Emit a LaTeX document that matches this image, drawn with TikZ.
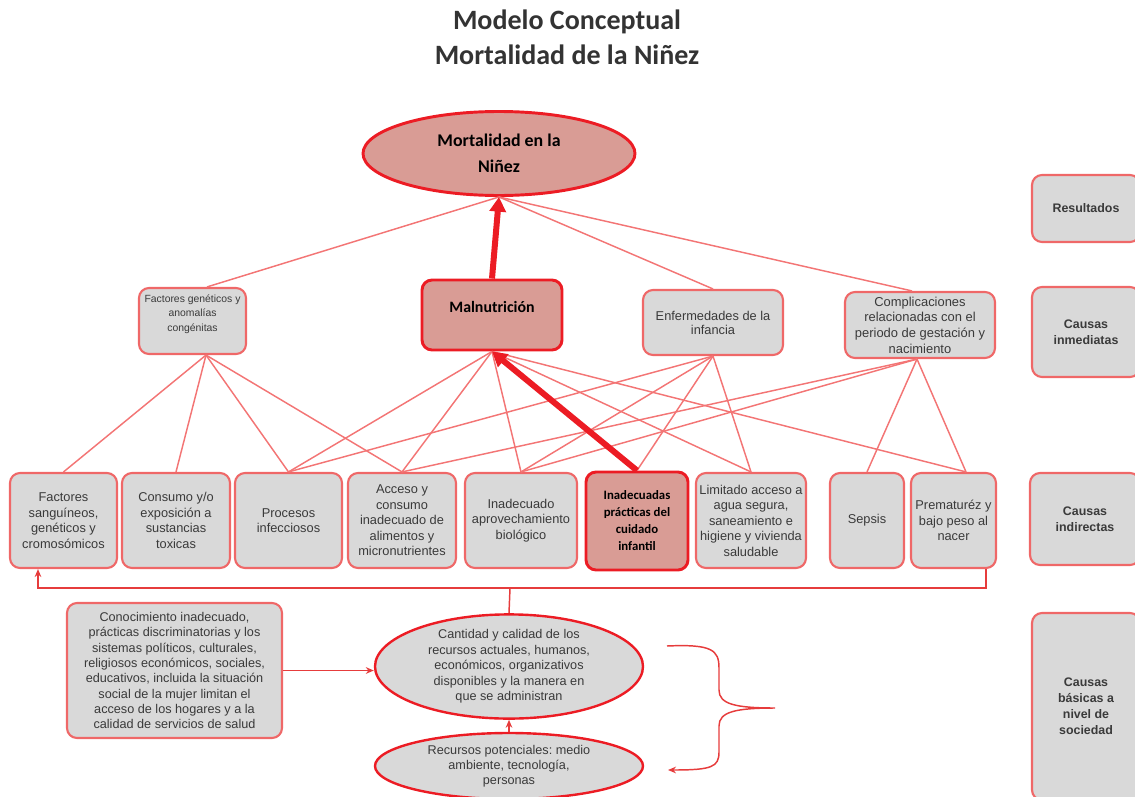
\documentclass[tikz,border=0pt]{standalone}
\usepackage{fontspec}
\setmainfont{Liberation Sans}
\newfontfamily\calibrif{Carlito}
\usetikzlibrary{shapes.geometric,arrows.meta,calc}
\frenchspacing
\definecolor{bfill}{HTML}{D9D9D9}
\definecolor{bdraw}{HTML}{EF6868}
\definecolor{lnkc}{HTML}{F37575}
\definecolor{lnkd}{HTML}{E63C3C}
\definecolor{salmon}{HTML}{D99C95}
\definecolor{deepred}{HTML}{EC1C24}
\definecolor{txt}{HTML}{3A3A3A}
\definecolor{ttl}{HTML}{333333}
\tikzset{
  box/.style 2 args={draw=bdraw, line width=1.6pt, fill=bfill, rounded corners=7.5pt,
    minimum width=#1*0.75pt, minimum height=#2*0.75pt, inner sep=0pt, align=center, text=txt},
  hot/.style 2 args={box={#1}{#2}, draw=deepred, line width=2.2pt, fill=salmon, text=black},
  oval/.style 2 args={ellipse, draw=deepred, line width=1.8pt, fill=bfill,
    minimum width=#1*0.75pt, minimum height=#2*0.75pt, inner sep=0pt, align=center, text=txt},
  lnk/.style={draw=lnkc, line width=1.1pt},
  brk/.style={draw=lnkd, line width=1.1pt},
  big/.style={draw=deepred, line width=4.5pt, -{Triangle[length=11pt,width=12pt]}},
  fa/.style={font=\fontsize{9.6}{11.6}\selectfont},
  fside/.style={font=\bfseries\fontsize{9.3}{12}\selectfont},
  fcal/.style={font=\calibrif\bfseries\fontsize{9.6}{12.75}\selectfont},
  tip/.style={-{Stealth[length=6pt,width=5pt]}}
}
\begin{document}
\begin{tikzpicture}[x=0.75pt,y=-0.75pt]
\useasboundingbox (0,0) rectangle (1135,796);
\clip (0,0) rectangle (1135,796);

% title
\node[font=\calibrif\bfseries\fontsize{21}{26}\selectfont, text=ttl, align=center] (title) at (567,37.5)
  {Modelo Conceptual\\Mortalidad de la Niñez};

% top ellipse
\node[oval={272}{84}, fill=salmon, line width=2.2pt, text=black,
  font=\calibrif\bfseries\fontsize{13.4}{19.5}\selectfont] (mort) at (499,153.5) {Mortalidad en la\\Niñez};

% row 2
\node[box={107}{66}] (fg) at (192.5,321) {};
\node[font=\fontsize{7.8}{11}\selectfont, text=txt, align=center] (fgtxt) at (192.5,314)
  {Factores genéticos y\\anomalías\\congénitas};
\node[hot={140}{70}] (maln) at (492,315) {};
\node[font=\calibrif\bfseries\fontsize{11.9}{14}\selectfont] (malntxt) at (492,307) {Malnutrición};
\node[box={140}{65}, font=\fontsize{9.6}{10.5}\selectfont] (enf) at (713,322.5) {Enfermedades de la\\infancia};
\node[box={150}{66}, font=\fontsize{9.7}{11.7}\selectfont] (comp) at (920,325)
  {Complicaciones\\relacionadas con el\\periodo de gestación y\\nacimiento};

% right column
\node[box={108}{67}, fside] (res) at (1086,208.5) {Resultados};
\node[box={108}{90}, fside] (inm) at (1086,332) {Causas\\inmediatas};
\node[box={110}{92}, fside] (ind) at (1085,519) {Causas\\indirectas};
\node[box={108}{187}, fside] (bas) at (1086,706.5) {Causas\\básicas a\\nivel de\\sociedad};

% row 3
\node[box={107}{95}, fa] (b1) at (63.5,520.5) {Factores\\sanguíneos,\\genéticos y\\cromosómicos};
\node[box={108}{95}, fa] (b2) at (176,520.5) {Consumo y/o\\exposición a\\sustancias\\toxicas};
\node[box={107}{95}, fa] (b3) at (288.5,520.5) {Procesos\\infecciosos};
\node[box={108}{95}, fa] (b4) at (402,520.5) {Acceso y\\consumo\\inadecuado de\\alimentos y\\micronutrientes};
\node[box={112}{95}, fa] (b5) at (521,520.5) {Inadecuado\\aprovechamiento\\biológico};
\node[hot={102}{98}, fcal] (b6) at (637,521) {Inadecuadas\\prácticas del\\cuidado\\infantil};
\node[box={110}{95}, fa] (b7) at (751,520.5) {Limitado acceso a\\agua segura,\\saneamiento e\\higiene y vivienda\\saludable};
\node[box={74}{95}, fa] (b8) at (867,520.5) {Sepsis};
\node[box={85}{95}, fa] (b9) at (953.5,520.5) {Prematuréz y\\bajo peso al\\nacer};

% bottom
\node[box={215}{135}, font=\fontsize{9.5}{11.5}\selectfont] (con) at (174.5,670.5)
  {Conocimiento inadecuado,\\prácticas discriminatorias y los\\sistemas políticos, culturales,\\religiosos económicos, sociales,\\educativos, incluida la situación\\social de la mujer limitan el\\acceso de los hogares y a la\\calidad de servicios de salud};
\node[oval={268}{101}, font=\fontsize{9.5}{11.6}\selectfont] (cant) at (509,666.5)
  {Cantidad y calidad de los\\recursos actuales, humanos,\\económicos, organizativos\\disponibles y la manera en\\que se administran};
\node[oval={268}{66}, font=\fontsize{9.5}{11.3}\selectfont] (rec) at (509,766)
  {Recursos potenciales: medio\\ambiente, tecnología,\\personas};

% anchor points
\coordinate (fgb) at ($(fg.south)+(13.5,0)$);
\coordinate (fgt) at ($(fg.north)+(14.5,0)$);
\coordinate (compt) at ($(comp.north)+(-8,0)$);
\coordinate (compb) at ($(comp.south)+(-3,0)$);
\coordinate (b9t) at ($(b9.north)+(12.5,0)$);

% top links
\draw[lnk] (mort.south) -- (fgt);
\draw[lnk] (mort.south) -- (enf.north);
\draw[lnk] (mort.south) -- (compt);

% row 2 to row 3
\foreach \t in {b1,b2,b3,b4} \draw[lnk] (fgb) -- (\t.north);
\foreach \t in {b3,b4,b5,b7} \draw[lnk] (maln.south) -- (\t.north);
\draw[lnk] (maln.south) -- (b9t);
\foreach \t in {b3,b5,b6,b7} \draw[lnk] (enf.south) -- (\t.north);
\foreach \t in {b4,b5,b8} \draw[lnk] (compb) -- (\t.north);
\draw[lnk] (compb) -- (b9t);

% thick arrows
\draw[big] (b6.north) -- (maln.south);
\draw[big] (maln.north) -- (mort.south);

% bracket under row 3
\coordinate (brl) at (38,588);
\coordinate (brr) at (986,588);
\coordinate (brm) at (510,588);
\draw[brk, tip] (brm) -- (brl) -- (b1.south -| brl);
\draw[brk] (brm) -- (brr) -- (b9.south -| brr);
\draw[brk] (brm) -- (cant.north);

% bottom arrows
\draw[brk, tip] (con.east) -- (cant.west |- con.east);
\draw[brk, tip] (rec.north) -- (cant.south);

% curly brace
\coordinate (bra) at (667,646);
\coordinate (brt) at (775,708);
\coordinate (brb) at (668,770);
\draw[brk, tip] (bra) .. controls (712,644) and (719,650) .. (719,668) -- (719,690)
  .. controls (719,704) and (735,708) .. (brt)
  .. controls (735,708) and (719,712) .. (719,726) -- (719,752)
  .. controls (719,767) and (712,770) .. (brb);
\end{tikzpicture}
\end{document}
